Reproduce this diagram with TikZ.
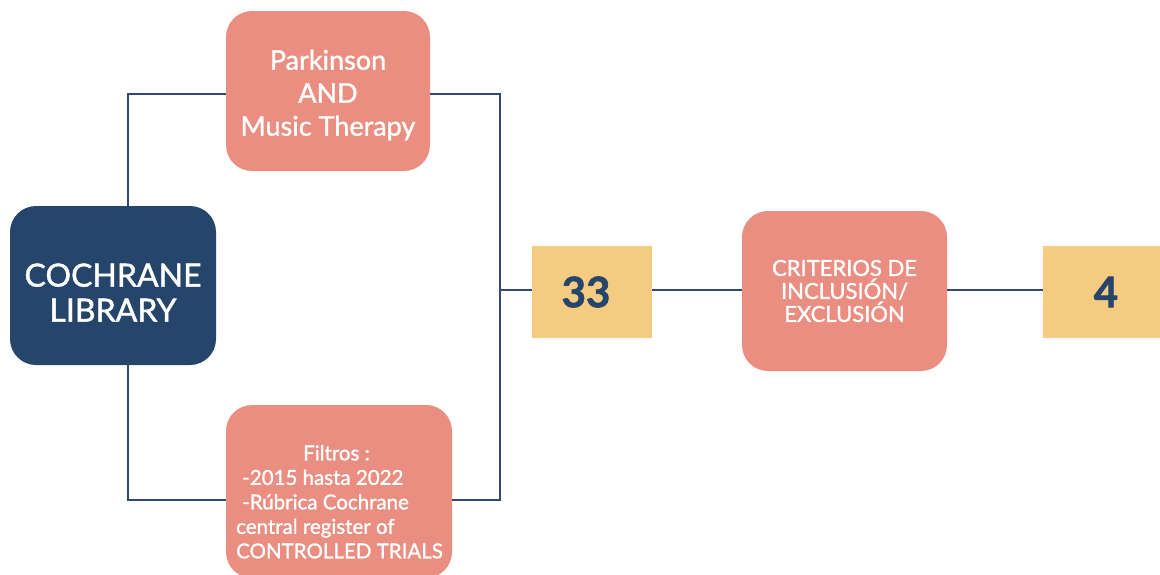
\documentclass[tikz,border=0pt]{standalone}
\usepackage{fontspec}
\setmainfont{Lato}
\newfontfamily\medfont{Lato}[FakeBold=1.3]
\newfontfamily\numfont{Lato}[BoldFeatures={FakeBold=1.6}]
\definecolor{salmon}{HTML}{EA8E82}
\definecolor{navy}{HTML}{26456A}
\definecolor{sand}{HTML}{F4CB80}
\definecolor{wire}{HTML}{2F4A72}
\begin{document}
\begin{tikzpicture}[x=1pt,y=-1pt,
  pinkbox/.style={fill=salmon,rounded corners=26pt,inner sep=0pt},
  navybox/.style={fill=navy,rounded corners=26pt,inner sep=0pt},
  boxtext/.style={text=white,align=center,inner sep=0pt},
  numbox/.style={fill=sand,inner sep=0pt},
  numtext/.style={text=navy,inner sep=0pt,font=\numfont\fontsize{42}{46}\selectfont\bfseries},
  wireline/.style={draw=wire,line width=2pt}]
\useasboundingbox (0,0) rectangle (1160,574);
\node[pinkbox,minimum width=204pt,minimum height=160pt] (top) at (328,91) {};
\node[boxtext,font=\fontsize{27}{33}\selectfont\medfont] (toptxt) at ([yshift=-4pt]top.center) {Parkinson\\AND\\Music Therapy};
\node[navybox,minimum width=206pt,minimum height=159pt] (coch) at (113,285.5) {};
\node[boxtext,font=\fontsize{32}{35}\selectfont\medfont] (cochtxt) at ([yshift=-7pt]coch.center) {COCHRANE\\LIBRARY};
\node[pinkbox,minimum width=226pt,minimum height=173pt] (bot) at (339,491.5) {};
\node[text=white,align=left,anchor=north west,inner sep=0pt,font=\fontsize{20.5}{24.5}\selectfont\medfont] (bottxt) at (236,445) {\hspace*{67pt}Filtros :\\\hspace*{6pt}-2015 hasta 2022\\\hspace*{6pt}-Rúbrica Cochrane\\central register of\\CONTROLLED TRIALS};
\node[numbox,minimum width=120pt,minimum height=92pt] (n33) at (592,292) {};
\node[numtext] (t33) at ([xshift=-6pt]n33.center) {33};
\node[pinkbox,minimum width=205pt,minimum height=160pt] (crit) at (844.5,291) {};
\node[boxtext,font=\fontsize{22}{23}\selectfont\medfont] (crittxt) at (crit.center) {CRITERIOS DE\\INCLUSIÓN/\\EXCLUSIÓN};
\node[numbox,minimum width=124pt,minimum height=92pt] (n4) at (1105,292) {};
\node[numtext] (t4) at ([xshift=1pt]n4.center) {4};
\coordinate (tl) at (128,94);
\coordinate (bl) at (128,500);
\coordinate (tr) at (500,94);
\coordinate (br) at (500,500);
\coordinate (mr) at (500,290);
\draw[wireline] (coch.north -| tl) -- (tl) -- (top.west |- tl);
\draw[wireline] (coch.south -| bl) -- (bl) -- (bot.west |- bl);
\draw[wireline] (top.east |- tr) -- (tr) -- (br) -- (bot.east |- br);
\draw[wireline] (mr) -- (n33.west |- mr);
\draw[wireline] (n33.east |- mr) -- (crit.west |- mr);
\draw[wireline] (crit.east |- mr) -- (n4.west |- mr);
\end{tikzpicture}
\end{document}
